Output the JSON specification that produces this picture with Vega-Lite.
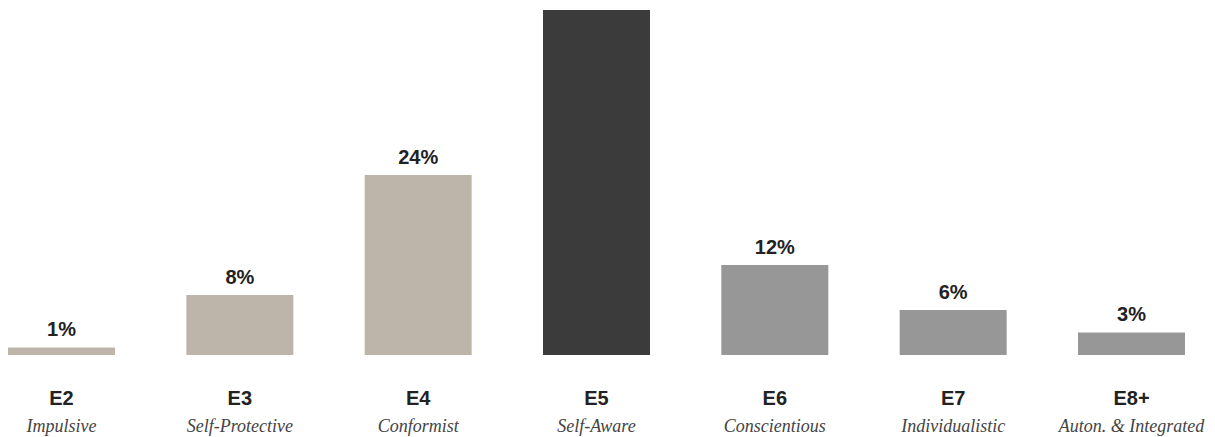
{
  "$schema": "https://vega.github.io/schema/vega-lite/v6.json",
  "autosize": {"type": "none"},
  "padding": {"left": 8, "top": 0, "right": 30, "bottom": 82},
  "width": 1177,
  "height": 355,
  "background": "white",
  "config": {"view": {"stroke": null}},
  "data": {
    "values": [
      {"code": "E2", "name": "Impulsive", "share": 0.01, "tier": "pre"},
      {"code": "E3", "name": "Self-Protective", "share": 0.08, "tier": "pre"},
      {"code": "E4", "name": "Conformist", "share": 0.24, "tier": "pre"},
      {"code": "E5", "name": "Self-Aware", "share": 0.46, "tier": "modal"},
      {"code": "E6", "name": "Conscientious", "share": 0.12, "tier": "post"},
      {"code": "E7", "name": "Individualistic", "share": 0.06, "tier": "post"},
      {"code": "E8+", "name": "Auton. & Integrated", "share": 0.03, "tier": "post"}
    ]
  },
  "layer": [
    {
      "mark": {"type": "bar"},
      "encoding": {
        "x": {
          "field": "code", "type": "nominal", "sort": null,
          "scale": {"type": "band", "paddingInner": 0.4, "paddingOuter": 0},
          "axis": {
            "orient": "bottom",
            "title": null, "domain": false, "ticks": false, "labelAngle": 0,
            "labelFont": "Liberation Sans", "labelFontWeight": "bold", "labelFontSize": 20,
            "labelColor": "#222222", "labelBaseline": "alphabetic", "labelPadding": 49
          }
        },
        "y": {
          "field": "share", "type": "quantitative",
          "scale": {"domain": [0, 0.4733], "nice": false},
          "axis": null
        },
        "color": {
          "field": "tier", "type": "nominal", "legend": null,
          "scale": {"domain": ["pre", "modal", "post"], "range": ["#bdb5a9", "#3b3b3b", "#979797"]}
        }
      }
    },
    {
      "mark": {"type": "text", "dy": -11, "baseline": "alphabetic", "font": "Liberation Sans", "fontWeight": "bold", "fontSize": 20, "color": "#222222", "clip": true},
      "encoding": {
        "x": {
          "field": "name", "type": "nominal", "sort": null,
          "scale": {"type": "band", "paddingInner": 0.4, "paddingOuter": 0},
          "axis": {
            "orient": "bottom",
            "title": null, "domain": false, "ticks": false, "labelAngle": 0,
            "labelFont": "Liberation Serif", "labelFontStyle": "italic", "labelFontSize": 18,
            "labelColor": "#444444", "labelBaseline": "alphabetic", "labelPadding": 76
          }
        },
        "y": {"field": "share", "type": "quantitative", "scale": {"domain": [0, 0.4733], "nice": false}, "axis": null},
        "text": {"field": "share", "type": "quantitative", "format": ".0%"}
      }
    }
  ],
  "resolve": {"scale": {"x": "independent"}, "axis": {"x": "independent"}}
}
